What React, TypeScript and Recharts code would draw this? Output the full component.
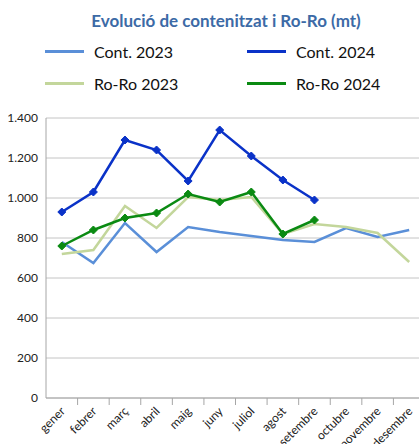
import { CartesianGrid, Line, LineChart, XAxis, YAxis } from "recharts";

const months = [
  "gener", "febrer", "març", "abril", "maig", "juny",
  "juliol", "agost", "setembre", "octubre", "novembre", "desembre"
];
const cont2023 = [780, 675, 875, 730, 855, 830, 810, 790, 780, 850, 805, 840];
const cont2024 = [930, 1030, 1290, 1240, 1085, 1340, 1210, 1090, 990, null, null, null];
const roro2023 = [720, 740, 960, 850, 1005, 990, 1005, 820, 870, 855, 825, 680];
const roro2024 = [760, 840, 900, 925, 1020, 980, 1030, 820, 890, null, null, null];
const yTicks = [0, 200, 400, 600, 800, 1000, 1200, 1400];

const data = months.map((m, i) => ({
  month: m,
  cont2023: cont2023[i],
  cont2024: cont2024[i],
  roro2023: roro2023[i],
  roro2024: roro2024[i]
}));

const legendItems = [
  { label: "Cont. 2023", color: "#5a8fd8", left: 45, top: 42 },
  { label: "Cont. 2024", color: "#0a32c8", left: 247, top: 42 },
  { label: "Ro-Ro 2023", color: "#c3d69b", left: 45, top: 74 },
  { label: "Ro-Ro 2024", color: "#0a8a12", left: 247, top: 74 }
];

const FONT = "Lato, 'Noto Sans', sans-serif";
const BAND = 31.6;

function Diamond(props: any) {
  const { cx, cy, stroke } = props;
  if (cx == null || cy == null) return null;
  const r = 4;
  return (
    <path
      d={`M${cx},${cy - r}L${cx + r},${cy}L${cx},${cy + r}L${cx - r},${cy}Z`}
      fill={stroke}
      stroke={stroke}
    />
  );
}

function MonthTick(props: any) {
  const { x, y, payload } = props;
  return (
    <g>
      <line x1={x + BAND / 2} x2={x + BAND / 2} y1={398} y2={405} stroke="#a6a6a6" />
      <text
        x={x + 4}
        y={y + 6}
        textAnchor="end"
        fontSize={12}
        fontFamily={FONT}
        fill="#222"
        transform={`rotate(-45 ${x + 4} ${y + 6})`}
      >
        {payload.value}
      </text>
    </g>
  );
}

export default function App() {
  return (
    <div
      style={{
        position: "absolute",
        left: 0,
        top: 0,
        width: 419,
        height: 444,
        overflow: "hidden",
        background: "#fff",
        fontFamily: FONT
      }}
    >
      <div
        style={{
          position: "absolute",
          left: 0,
          top: 10,
          width: 452,
          textAlign: "center",
          fontSize: 17,
          fontWeight: 700,
          color: "#3c6aa6"
        }}
      >
        Evolució de contenitzat i Ro-Ro (mt)
      </div>
      {legendItems.map((it) => (
        <div
          key={it.label}
          style={{ position: "absolute", left: it.left, top: it.top, display: "flex", alignItems: "center" }}
        >
          <span style={{ display: "inline-block", width: 39, height: 3, background: it.color, marginRight: 10 }} />
          <span style={{ fontSize: 16, color: "#111" }}>{it.label}</span>
        </div>
      ))}
      <LineChart
        width={440}
        height={444}
        data={data}
        margin={{ top: 118, right: 15, left: 0, bottom: 0 }}
        style={{ position: "absolute", left: 0, top: 0 }}
      >
        <CartesianGrid stroke="#c4c4c4" vertical={false} />
        <XAxis
          dataKey="month"
          height={46}
          interval={0}
          padding={{ left: BAND / 2, right: BAND / 2 }}
          tickLine={false}
          axisLine={{ stroke: "#a6a6a6" }}
          tick={<MonthTick />}
        />
        <YAxis
          width={46}
          domain={[0, 1400]}
          ticks={yTicks}
          interval={0}
          tickLine={false}
          axisLine={{ stroke: "#a6a6a6" }}
          tick={{ fontSize: 12, fill: "#222", fontFamily: FONT }}
          tickFormatter={(v) => Number(v).toLocaleString("de-DE")}
        />
        <Line dataKey="cont2023" stroke="#5a8fd8" strokeWidth={2.5} dot={false} isAnimationActive={false} />
        <Line dataKey="roro2023" stroke="#c3d69b" strokeWidth={2.5} dot={false} isAnimationActive={false} />
        <Line dataKey="cont2024" stroke="#0a32c8" strokeWidth={2.5} dot={<Diamond />} isAnimationActive={false} />
        <Line dataKey="roro2024" stroke="#0a8a12" strokeWidth={2.5} dot={<Diamond />} isAnimationActive={false} />
      </LineChart>
    </div>
  );
}
